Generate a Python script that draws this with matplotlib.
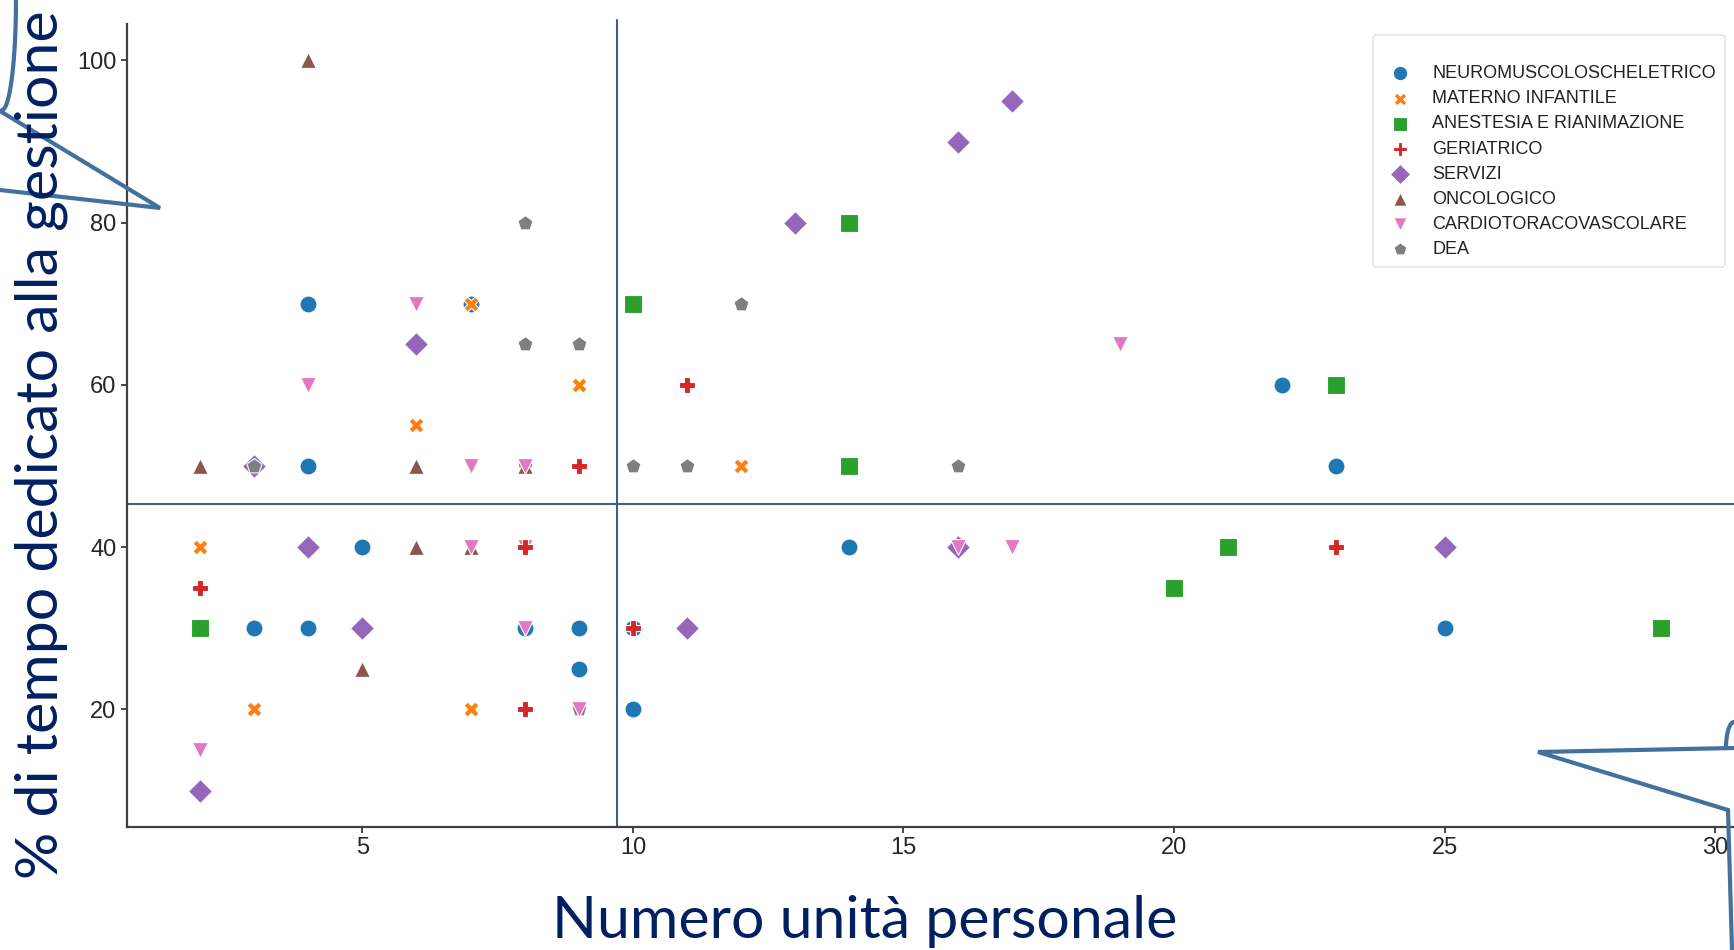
import numpy as np
import pandas as pd
import matplotlib
matplotlib.use("Agg")
import matplotlib.pyplot as plt
import seaborn as sns
from matplotlib.lines import Line2D

# unità di personale (x) e % di tempo dedicato alla gestione (y) per area
neuro_x = [4, 4, 5, 3, 4, 9, 9, 10, 8, 10, 14, 22, 23, 25, 7]
neuro_y = [70, 50, 40, 30, 30, 30, 25, 20, 30, 30, 40, 60, 50, 30, 70]

materno_x = [2, 3, 6, 7, 9, 12, 7]
materno_y = [40, 20, 55, 70, 60, 50, 20]

anestesia_x = [2, 10, 14, 14, 23, 20, 21, 29]
anestesia_y = [30, 70, 80, 50, 60, 35, 40, 30]

geriatrico_x = [2, 8, 8, 9, 10, 11, 23]
geriatrico_y = [35, 40, 20, 50, 30, 60, 40]

servizi_x = [2, 4, 5, 6, 11, 13, 16, 17, 25, 16, 3]
servizi_y = [10, 40, 30, 65, 30, 80, 90, 95, 40, 40, 50]

onco_x = [4, 2, 6, 8, 6, 5, 7]
onco_y = [100, 50, 50, 50, 40, 25, 40]

cardio_x = [4, 6, 7, 7, 8, 9, 2, 16, 17, 19, 8, 8]
cardio_y = [60, 70, 50, 40, 30, 20, 15, 40, 40, 65, 40, 50]

dea_x = [8, 8, 9, 12, 3, 10, 11, 16, 9, 8]
dea_y = [80, 65, 65, 70, 50, 50, 50, 50, 20, 50]

categories = ["NEUROMUSCOLOSCHELETRICO", "MATERNO INFANTILE", "ANESTESIA E RIANIMAZIONE",
              "GERIATRICO", "SERVIZI", "ONCOLOGICO", "CARDIOTORACOVASCOLARE", "DEA"]
xs = [neuro_x, materno_x, anestesia_x, geriatrico_x, servizi_x, onco_x, cardio_x, dea_x]
ys = [neuro_y, materno_y, anestesia_y, geriatrico_y, servizi_y, onco_y, cardio_y, dea_y]

colors = ["#1f77b4", "#ff7f0e", "#2ca02c", "#d62728", "#9467bd", "#8c564b", "#e377c2", "#7f7f7f"]
markers = ["o", "X", "s", "P", "D", "^", "v", "p"]
sizes = [150, 120, 150, 140, 150, 130, 130, 130]
# ordine di disegno (dal basso verso l'alto)
layer = [0, 2, 1, 6, 1, 4, 5, 3]

sns.set_style("ticks")
fig = plt.figure(figsize=(17.34, 9.5), dpi=100)
ax = fig.add_axes([127 / 1734, 123 / 950, 1607 / 1734, 803 / 950])

for cat, x, y, c, m, s, z in zip(categories, xs, ys, colors, markers, sizes, layer):
    ax.scatter(x, y, s=s, c=c, marker=m, edgecolors="white", linewidths=0.8,
               label=cat, zorder=3 + z)

ax.margins(0.05)
ax.set_xticks([5, 10, 15, 20, 25, 30])
ax.set_yticks([20, 40, 60, 80, 100])
ax.tick_params(labelsize=17, colors=".15", length=4, width=1.2)
for lbl in ax.get_xticklabels() + ax.get_yticklabels():
    lbl.set_family("Liberation Sans")
for sp in ["left", "bottom"]:
    ax.spines[sp].set_linewidth(1.6)
    ax.spines[sp].set_color(".25")
sns.despine(ax=ax)

# medie
ax.axvline(9.7, color="#3a5f8a", lw=1.5, zorder=2, ymax=1.005, clip_on=False)
ax.axhline(45.3, color="#3a5f8a", lw=1.5, zorder=2)

leg = ax.legend(loc="upper right", bbox_to_anchor=(0.9944, 0.9863), borderaxespad=0,
                title=" ", frameon=True, labelspacing=0.45, handletextpad=0.8,
                borderpad=0.5, markerscale=0.85, prop={"family": "Liberation Sans", "size": 13})
leg.get_title().set_fontsize(9)
leg.get_frame().set_edgecolor("#dddddd")
leg.get_frame().set_linewidth(1.2)
for t in leg.get_texts():
    t.set_color("#222222")

navy = "#002060"
fig.text(865 / 1734, 12 / 950, "Numero unità personale", ha="center", va="baseline",
         fontsize=42.5, color=navy, family="Lato")
fig.text(41 / 1734, 71 / 950, "% di tempo dedicato alla gestione", ha="center", va="bottom",
         rotation=90, fontsize=42.5, color=navy, family="Lato")

# fumetti (bordo)
W, H = 1734.0, 950.0
def fig_line(pts):
    px = [p[0] / W for p in pts]
    py = [1 - p[1] / H for p in pts]
    fig.add_artist(Line2D(px, py, color="#41719c", lw=3, transform=fig.transFigure,
                          solid_joinstyle="miter"))

t = np.linspace(0, np.pi / 2, 20)
fig_line([(2 + 14 * np.sin(a), 110 - 110 * (1 - np.cos(a))) for a in t])
fig_line([(0, 111), (160, 208), (0, 190)])
fig_line([(1734, 748), (1538, 752), (1728, 810), (1732, 950)])
fig_line([(1726 + 8 * (1 - np.cos(a)), 748 - 26 * np.sin(a)) for a in t])

fig.savefig("out.png", dpi=100)
